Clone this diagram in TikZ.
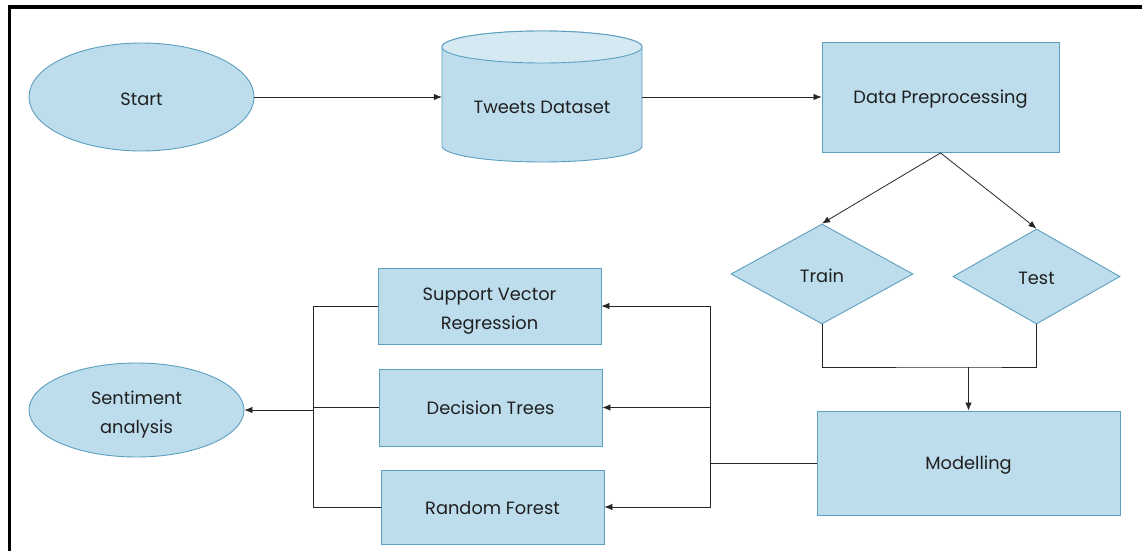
\documentclass[tikz,border=0pt]{standalone}
\usepackage{fontspec}
\setmainfont{Poppins}
\usetikzlibrary{shapes.geometric,arrows.meta}
\definecolor{boxfill}{HTML}{BDDDED}
\definecolor{boxline}{HTML}{5C9FBF}
\definecolor{topfill}{HTML}{D5E9F3}
\newcommand{\lowr}[1]{\rule{0pt}{#1}}
\begin{document}
\begin{tikzpicture}[x=1pt,y=-1pt,
  every node/.style={font=\fontsize{17.8}{29}\selectfont, text=black!88},
  lower/.style={execute at begin node={\rule{0pt}{#1}}},
  ellbox/.style={ellipse, draw=boxline, fill=boxfill, line width=0.9pt, inner sep=0pt, align=center},
  recbox/.style={rectangle, draw=boxline, fill=boxfill, line width=0.9pt, inner sep=0pt, align=center},
  dia/.style={diamond, draw=boxline, fill=boxfill, line width=0.9pt, inner sep=0pt, aspect=1.8},
  conn/.style={draw=black!85, line width=0.8pt},
  arr/.style={conn, -{Latex[length=8pt,width=6.5pt]}}]
\useasboundingbox (0,0) rectangle (1142,551);
\fill[white] (0,0) rectangle (1142,551);
% frame
\draw[line width=4pt] (8,7.5) -- (1142,7.5);
\draw[line width=3.5pt] (9.5,6) -- (9.5,551);

% nodes
\node[ellbox, lower=17pt, minimum width=225pt, minimum height=108pt] (start) at (141.5,97) {Start};

% cylinder
\node[minimum width=200pt, minimum height=131pt, inner sep=0pt] (tw) at (542,97) {};
\path[fill=boxfill, draw=boxline, line width=0.9pt] (442,47) -- (442,146) arc[start angle=180, end angle=360, x radius=100pt, y radius=16pt] -- (642,47) arc[start angle=0, end angle=180, x radius=100pt, y radius=16pt] -- cycle;
\path[fill=topfill, draw=boxline, line width=0.9pt] (542,47) ellipse[x radius=100pt, y radius=16pt];
\node (twl) at (542,107) {Tweets Dataset};

\node[recbox, lower=17pt, minimum width=237pt, minimum height=110pt] (dp) at (940.5,97.5) {Data Preprocessing};

\node[dia, lower=17pt, minimum width=182pt, minimum height=100pt] (train) at (822,274) {Train};
\node[dia, lower=17pt, minimum width=167pt, minimum height=95pt] (test) at (1036.5,276.5) {Test};

\node[recbox, lower=17pt, minimum width=303pt, minimum height=104pt] (mod) at (968.5,463) {Modelling};

\node[recbox, minimum width=223pt, minimum height=76pt] (svr) at (489.5,306) {\lowr{22pt}Support Vector\\Regression};
\node[recbox, minimum width=223pt, minimum height=77pt] (dt) at (490.5,407.5) {Decision Trees};
\node[recbox, lower=16pt, minimum width=223pt, minimum height=74pt] (rf) at (492.5,507) {Random Forest};

\node[ellbox, minimum width=215pt, minimum height=94pt] (sa) at (136.5,410) {\lowr{22pt}Sentiment\\analysis};

% connectors
\draw[arr] (start.east) -- (tw.west);
\draw[arr] (tw.east) -- (dp.west |- tw.east);
\draw[arr] (dp.south) -- (train.north);
\draw[arr] (dp.south) -- (test.north);
\coordinate (j) at (968.5,367);
\draw[conn] (train.south) |- (j) -| (test.south);
\draw[arr] (j) -- (mod.north);
\coordinate (m) at (710,463);
\draw[conn] (mod.west) -- (m);
\draw[arr] (m) |- (svr.east);
\draw[arr] (m) |- (dt.east);
\draw[arr] (m) |- (rf.east);
\coordinate (l) at (313,410);
\draw[conn] (svr.west) -| (l);
\draw[conn] (dt.west) -- (dt.west -| l);
\draw[conn] (rf.west) -| (l);
\draw[arr] (l) -- (sa.east);
\end{tikzpicture}
\end{document}
